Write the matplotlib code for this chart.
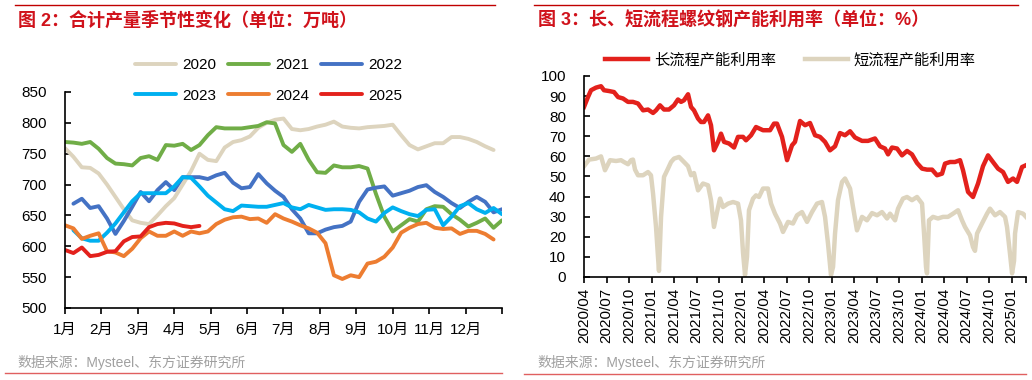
import numpy as np
import matplotlib.pyplot as plt

plt.rcParams['font.family'] = ['Liberation Sans', 'Noto Sans CJK SC']
plt.rcParams['axes.unicode_minus'] = False

nan = np.nan

# ---- left chart: weekly output by year (万吨) ----
years = ['2020', '2021', '2022', '2023', '2024', '2025']
colors = ['#DDD4BE', '#70AD47', '#4472C4', '#00B0F0', '#ED7D31', '#E3211C']

y2020 = [759, 745, 728, 727, 718, 700, 680, 660, 642, 638, 636, 650, 665, 678,
         700, 722, 750, 740, 738, 760, 769, 772, 778, 792, 800, 805, 807, 790,
         788, 790, 794, 797, 802, 794, 792, 791, 793, 794, 795, 797, 780, 764,
         757, 762, 767, 767, 777, 777, 774, 769, 762, 756]
y2021 = [769, 768, 766, 769, 758, 743, 734, 733, 731, 743, 746, 740, 764, 763,
         766, 756, 764, 780, 793, 791, 791, 791, 793, 795, 801, 799, 764, 753,
         766, 740, 720, 719, 731, 728, 728, 730, 726, 685, 648, 624, 634, 644,
         640, 660, 665, 664, 652, 643, 632, 638, 645, 630, 642]
y2022 = [nan, 669, 677, 662, 665, 645, 620, 641, 664, 688, 673, 691, 704, 691,
         712, 712, 712, 709, 715, 719, 703, 694, 696, 717, 702, 690, 680, 660,
         645, 621, 621, 627, 631, 633, 640, 672, 692, 695, 697, 682, 686, 690,
         696, 699, 688, 680, 670, 662, 672, 680, 672, 655, 660]
y2023 = [nan, 626, 613, 609, 609, 622, 637, 655, 673, 686, 686, 686, 686, 697,
         712, 711, 697, 682, 671, 660, 657, 666, 665, 664, 664, 667, 670, 663,
         660, 667, 663, 659, 660, 660, 659, 655, 645, 640, 654, 663, 657, 652,
         649, 659, 660, 634, 648, 665, 670, 660, 654, 662, 652]
y2024 = [634, 629, 612, 617, 621, 592, 590, 584, 596, 613, 624, 617, 617, 624,
         617, 624, 621, 624, 636, 643, 647, 648, 644, 645, 638, 652, 645, 640,
         634, 629, 622, 605, 553, 547, 553, 550, 572, 575, 583, 598, 622, 630,
         636, 638, 630, 628, 629, 620, 625, 625, 620, 611]
y2025 = [594, 589, 598, 584, 586, 591, 592, 608, 615, 616, 631, 636, 638, 637,
         633, 631, 633]
series = [y2020, y2021, y2022, y2023, y2024, y2025]
month_labels = ['1月', '2月', '3月', '4月', '5月', '6月', '7月', '8月', '9月',
                '10月', '11月', '12月', '']

# ---- right chart: capacity utilisation (%) ----
red_t = [2020.250, 2020.294, 2020.328, 2020.383, 2020.439, 2020.472, 2020.528,
         2020.583, 2020.628, 2020.683, 2020.739, 2020.794, 2020.850, 2020.906,
         2020.961, 2021.017, 2021.050, 2021.094, 2021.139, 2021.194, 2021.250,
         2021.294, 2021.328, 2021.361, 2021.406, 2021.439, 2021.472, 2021.517,
         2021.550, 2021.583, 2021.628, 2021.661, 2021.694, 2021.739, 2021.772,
         2021.806, 2021.861, 2021.917, 2021.961, 2022.017, 2022.050, 2022.106,
         2022.161, 2022.239, 2022.317, 2022.361, 2022.394, 2022.450, 2022.506,
         2022.561, 2022.594, 2022.650, 2022.706, 2022.761, 2022.817, 2022.872,
         2022.928, 2022.983, 2023.039, 2023.094, 2023.150, 2023.206, 2023.261,
         2023.339, 2023.406, 2023.483, 2023.539, 2023.594, 2023.628, 2023.672,
         2023.728, 2023.783, 2023.839, 2023.894, 2023.950, 2024.006, 2024.061,
         2024.117, 2024.172, 2024.228, 2024.261, 2024.317, 2024.372, 2024.428,
         2024.461, 2024.517, 2024.572, 2024.628, 2024.683, 2024.739, 2024.794,
         2024.850, 2024.906, 2024.961, 2025.017, 2025.061, 2025.117, 2025.161]
red_v = [84.6, 89.5, 92.9, 94.2, 94.9, 92.9, 92.5, 92.0, 89.5, 88.8, 87.1, 87.1,
         86.3, 82.9, 83.3, 81.6, 82.9, 85.4, 83.3, 83.3, 85.4, 88.3, 87.1, 87.9,
         90.9, 84.6, 82.9, 78.8, 77.1, 77.1, 80.4, 75.5, 63.0, 67.2, 71.3, 67.2,
         66.4, 64.4, 69.7, 69.7, 68.0, 70.5, 74.6, 73.0, 73.0, 76.3, 76.3, 69.7,
         58.1, 65.5, 67.2, 77.6, 75.5, 76.6, 70.5, 69.7, 67.2, 63.0, 65.0, 71.6,
         70.5, 72.5, 69.4, 67.7, 67.7, 68.9, 65.0, 63.9, 61.0, 64.4, 63.9, 60.5,
         62.7, 61.0, 56.7, 53.9, 53.4, 53.4, 50.6, 51.4, 56.4, 57.2, 57.2, 58.1,
         53.1, 42.3, 39.8, 46.5, 55.1, 60.5, 57.2, 53.9, 52.2, 47.3, 49.0, 47.3,
         54.7, 55.6]

short_t = [2020.250, 2020.306, 2020.383, 2020.439, 2020.483, 2020.539, 2020.606,
           2020.661, 2020.694, 2020.739, 2020.772, 2020.794, 2020.817, 2020.850,
           2020.906, 2020.961, 2020.994, 2021.017, 2021.050, 2021.072, 2021.083,
           2021.106, 2021.139, 2021.183, 2021.217, 2021.250, 2021.306, 2021.361,
           2021.406, 2021.439, 2021.472, 2021.517, 2021.572, 2021.628, 2021.661,
           2021.694, 2021.728, 2021.761, 2021.794, 2021.850, 2021.906, 2021.961,
           2021.994, 2022.017, 2022.039, 2022.061, 2022.083, 2022.128, 2022.161,
           2022.194, 2022.239, 2022.294, 2022.328, 2022.372, 2022.428, 2022.461,
           2022.517, 2022.572, 2022.617, 2022.672, 2022.728, 2022.783, 2022.839,
           2022.894, 2022.928, 2022.961, 2022.994, 2023.017, 2023.039, 2023.072,
           2023.117, 2023.150, 2023.206, 2023.239, 2023.283, 2023.339, 2023.394,
           2023.450, 2023.506, 2023.561, 2023.617, 2023.650, 2023.706, 2023.739,
           2023.794, 2023.839, 2023.894, 2023.950, 2024.006, 2024.028, 2024.050,
           2024.061, 2024.083, 2024.128, 2024.183, 2024.239, 2024.294, 2024.350,
           2024.406, 2024.450, 2024.483, 2024.539, 2024.572, 2024.594, 2024.617,
           2024.672, 2024.728, 2024.761, 2024.817, 2024.872, 2024.928, 2024.950,
           2024.983, 2025.006, 2025.028, 2025.039, 2025.072, 2025.128, 2025.161]
short_v = [55.1, 58.4, 58.9, 60.0, 53.1, 58.1, 57.7, 58.1, 57.2, 56.1, 58.1, 58.4,
           53.4, 50.6, 50.6, 52.2, 50.6, 41.5, 24.9, 10.0, 3.0, 29.9, 49.8, 53.9,
           57.2, 58.9, 59.7, 57.2, 55.1, 50.6, 51.7, 43.1, 46.5, 45.6, 38.2, 24.9,
           32.3, 39.0, 34.8, 36.5, 37.3, 36.5, 28.2, 12.0, 1.0, 10.0, 33.2, 39.0,
           40.6, 39.8, 44.0, 44.0, 36.5, 31.5, 26.6, 22.4, 27.4, 26.6, 30.7, 32.3,
           27.4, 32.3, 36.5, 37.3, 29.9, 16.6, 1.0, 5.0, 21.6, 38.2, 47.3, 49.0,
           44.0, 34.8, 23.2, 29.9, 28.2, 31.8, 30.7, 32.3, 29.1, 31.5, 28.2, 34.0,
           39.0, 39.8, 38.2, 39.8, 36.5, 21.6, 5.0, 1.8, 28.2, 29.9, 29.1, 29.9,
           29.9, 31.5, 33.2, 28.2, 24.9, 20.7, 14.9, 13.0, 21.6, 26.6, 31.5, 34.0,
           30.7, 32.3, 29.9, 24.9, 11.6, 1.8, 8.0, 21.6, 32.3, 31.5, 29.9]
quarter_ticks = [2020.25, 2020.5, 2020.75, 2021.0, 2021.25, 2021.5, 2021.75,
                 2022.0, 2022.25, 2022.5, 2022.75, 2023.0, 2023.25, 2023.5,
                 2023.75, 2024.0, 2024.25, 2024.5, 2024.75, 2025.0, 2025.161]
quarter_labels = ['2020/04', '2020/07', '2020/10', '2021/01', '2021/04',
                  '2021/07', '2021/10', '2022/01', '2022/04', '2022/07',
                  '2022/10', '2023/01', '2023/04', '2023/07', '2023/10',
                  '2024/01', '2024/04', '2024/07', '2024/10', '2025/01', '']

title_red = '#D0121B'
line_red = '#E3211C'
src_gray = '#A0A0A0'

fig = plt.figure(figsize=(10.32, 3.8), dpi=100)

# ---------- left ----------
ax1 = fig.add_axes([0.063, 0.1895, 0.4234, 0.5684])
lines = []
for name, vals, c in zip(years, series, colors):
    x = 1 + np.arange(len(vals)) * 12 / 52
    ln, = ax1.plot(x, vals, color=c, lw=2.8, label=name, solid_capstyle='round')
    lines.append(ln)
ax1.set_xlim(1, 13)
ax1.set_ylim(500, 850)
ax1.set_yticks(np.arange(500, 851, 50))
ax1.set_xticks(np.arange(1, 14))
ax1.set_xticklabels(month_labels)
for s in ['top', 'right']:
    ax1.spines[s].set_visible(False)
for s in ['left', 'bottom']:
    ax1.spines[s].set_linewidth(1.2)
ax1.tick_params(axis='y', direction='in', length=4, width=1.2, pad=13,
                labelsize=11)
ax1.tick_params(axis='x', direction='out', length=4, width=1.2, pad=7,
                labelsize=11)
# legend filled row by row: 2020 2021 2022 / 2023 2024 2025
order = [0, 3, 1, 4, 2, 5]
ax1.legend([lines[i] for i in order], [years[i] for i in order],
           ncol=3, frameon=False, fontsize=11, loc='upper left',
           bbox_to_anchor=(135 / 1032, 1 - 58 / 380),
           bbox_transform=fig.transFigure, borderpad=0, borderaxespad=0,
           handlelength=2.7, handletextpad=0.4, columnspacing=0.75,
           labelspacing=1.1)

# ---------- right ----------
ax2 = fig.add_axes([0.5659, 0.2711, 0.4283, 0.529])
ax2.plot(red_t, red_v, color=line_red, lw=3.2, label='长流程产能利用率')
ax2.plot(short_t, short_v, color='#DDD4BE', lw=3.2, label='短流程产能利用率')
ax2.set_xlim(2020.25, 2025.161)
ax2.set_ylim(0, 100)
ax2.set_yticks(np.arange(0, 101, 10))
ax2.set_xticks(quarter_ticks)
ax2.set_xticklabels(quarter_labels, rotation=90)
for s in ['top', 'right']:
    ax2.spines[s].set_visible(False)
for s in ['left', 'bottom']:
    ax2.spines[s].set_linewidth(1.2)
ax2.tick_params(axis='y', direction='in', length=4, width=1.2, pad=13,
                labelsize=11)
ax2.tick_params(axis='x', direction='out', length=4, width=1.2, pad=4,
                labelsize=11)
ax2.legend(ncol=2, frameon=False, fontsize=11, loc='center left',
           bbox_to_anchor=(605 / 1032, 1 - 60 / 380),
           bbox_transform=fig.transFigure, borderpad=0, borderaxespad=0,
           handlelength=2.8, handletextpad=0.4, columnspacing=1.9)

# ---------- titles, rules, sources ----------
fig.add_artist(plt.Line2D([15 / 1032, 495 / 1032], [1 - 5 / 380] * 2,
                          color='#C00000', lw=1))
fig.add_artist(plt.Line2D([534 / 1032, 1018 / 1032], [1 - 5 / 380] * 2,
                          color='#C00000', lw=1))
fig.add_artist(plt.Line2D([5 / 1032, 502 / 1032], [1 - 373 / 380] * 2,
                          color='#E06060', lw=1))
fig.add_artist(plt.Line2D([524 / 1032, 1026 / 1032], [1 - 374 / 380] * 2,
                          color='#E06060', lw=1))

fig.text(18 / 1032, 1 - 21 / 380, '图 2：合计产量季节性变化（单位：万吨）',
         color=title_red, fontsize=13, fontweight='bold', va='center')
fig.text(538 / 1032, 1 - 21 / 380, '图 3：长、短流程螺纹钢产能利用率（单位：%）',
         color=title_red, fontsize=13, fontweight='bold', va='center')
fig.text(17 / 1032, 1 - 363 / 380, '数据来源：Mysteel、东方证券研究所',
         color=src_gray, fontsize=10, va='center')
fig.text(537 / 1032, 1 - 363 / 380, '数据来源：Mysteel、东方证券研究所',
         color=src_gray, fontsize=10, va='center')

fig.savefig('out.png', dpi=100)
